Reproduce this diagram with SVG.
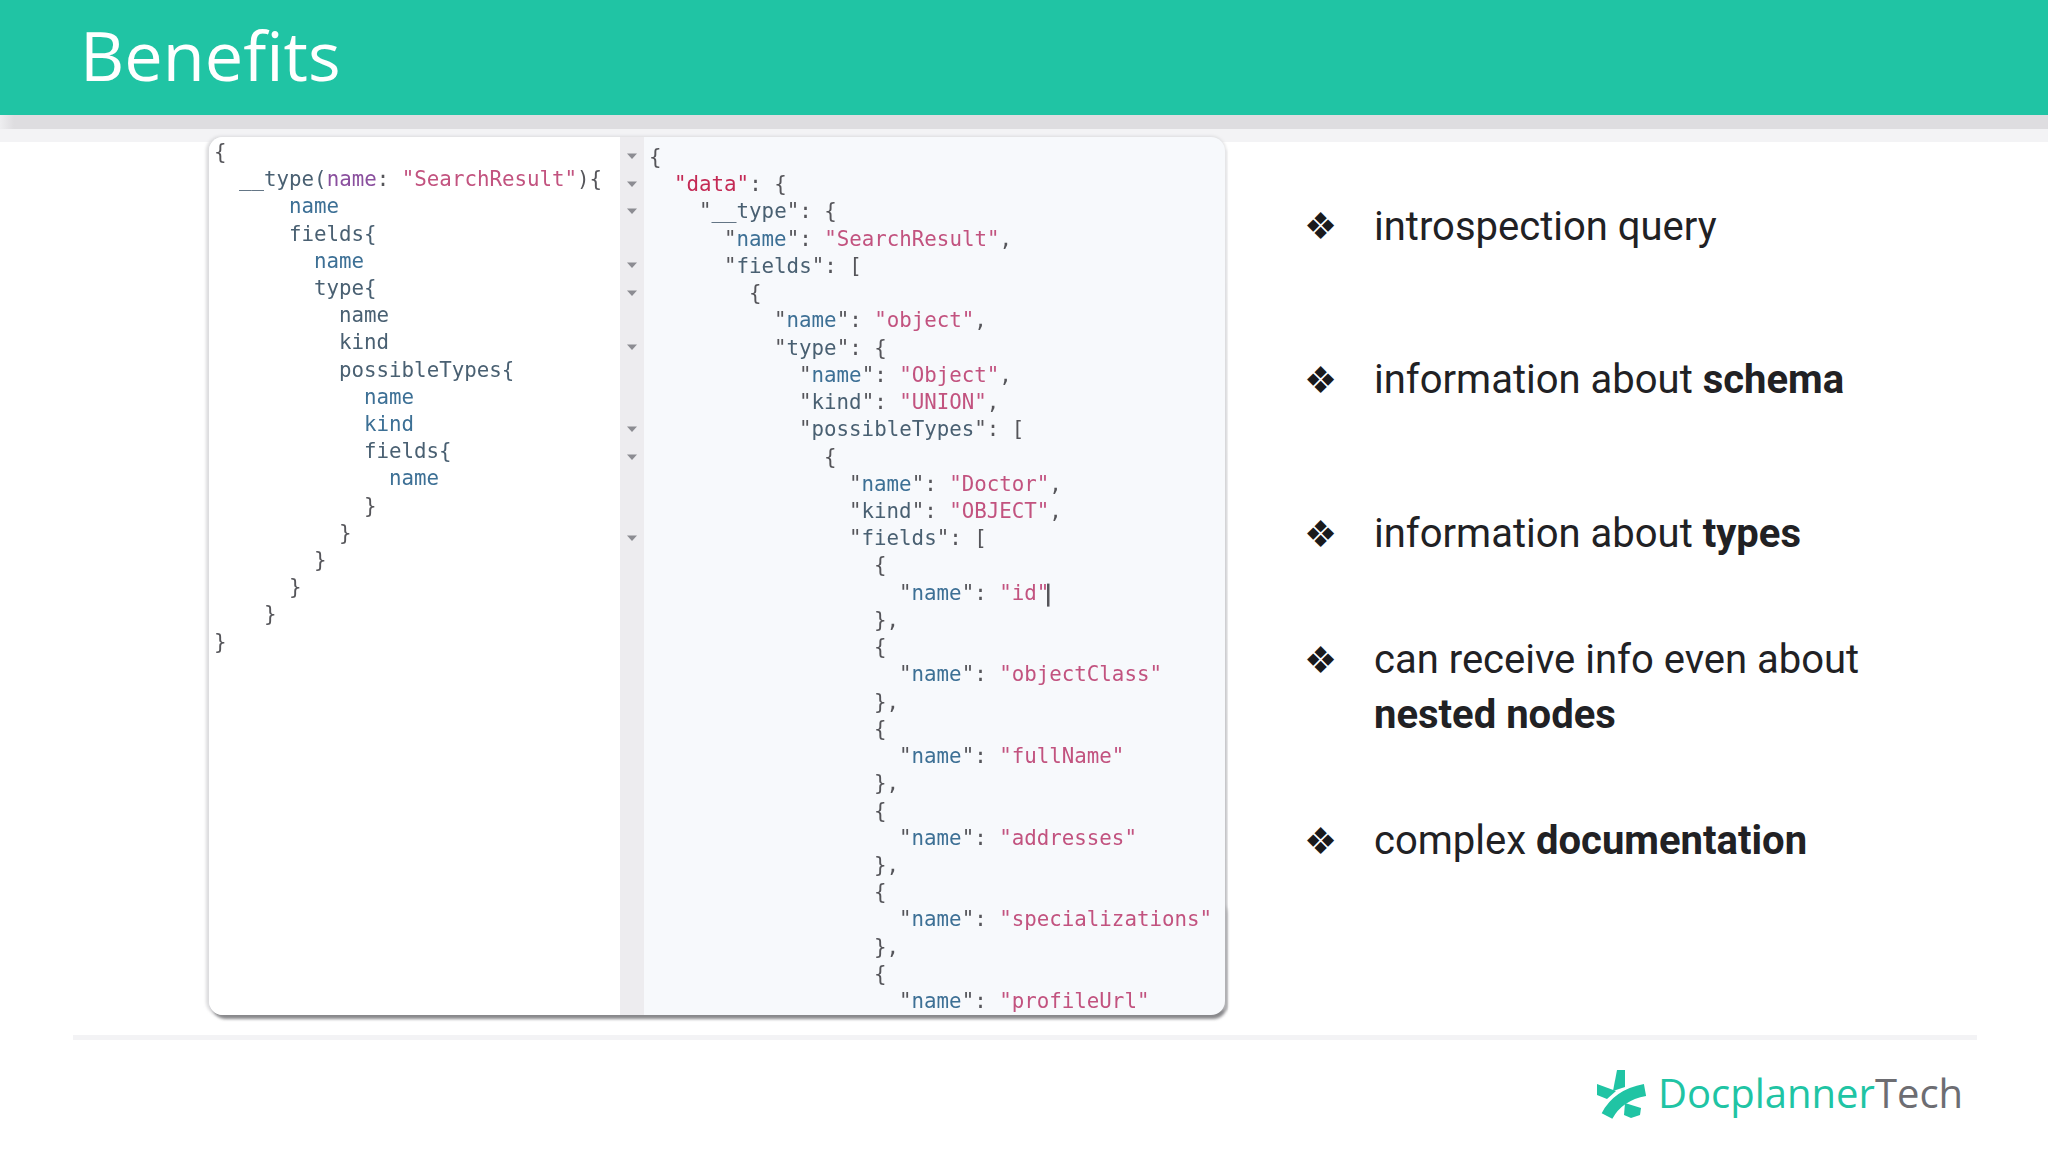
<svg xmlns="http://www.w3.org/2000/svg" width="2048" height="1152" viewBox="0 0 2048 1152">
<style>
.c{font-family:"DejaVu Sans Mono",monospace;font-size:20.8px;fill:#55555a;white-space:pre}
.k{fill:#3c6f95}.s{fill:#c2527f}.a{fill:#8a4f9e}.d{fill:#c42a55}.f{fill:#4a6072}
.b{font-family:Roboto,sans-serif;font-size:40px;fill:#212124}
.b tspan{font-weight:700}
.g{font-family:"DejaVu Sans",sans-serif;font-size:37px;fill:#1a1a1c}
</style>
<defs>
<filter id="soft" x="-5%" y="-5%" width="110%" height="110%"><feGaussianBlur stdDeviation="0.7"/></filter>
<filter id="shadow" x="-5%" y="-5%" width="110%" height="110%"><feGaussianBlur stdDeviation="1.5"/></filter>
<linearGradient id="band" x1="0" x2="1" y1="0" y2="0"><stop offset="0" stop-color="#eeeef0"/><stop offset="1" stop-color="#dedde0"/></linearGradient>
<linearGradient id="edge" x1="0" x2="0" y1="0" y2="1"><stop offset="0" stop-color="#e6e6e8"/><stop offset="1" stop-color="#b4b4b7"/></linearGradient>
<path id="tri" d="M-5,-2.5H5L0,3Z" fill="#8c8c92"/>
</defs>
<rect width="2048" height="1152" fill="#ffffff"/>
<g id="header">
<rect y="115" width="2048" height="27" fill="#f3f3f5"/>
<rect y="115" width="2048" height="14" fill="#dedde0"/>
<rect y="115" width="14" height="14" fill="url(#band)"/>
<rect width="2048" height="115" fill="#20c4a4"/>
<text x="80" y="81" font-family="'Open Sans',sans-serif" font-size="68.5" fill="#ffffff">Benefits</text>
</g>
<rect id="footer-rule" x="73" y="1035" width="1904" height="5" fill="#f3f3f5"/>
<g id="screenshot">
<rect x="206" y="136" width="1020" height="880" rx="15" fill="#dcdcde" filter="url(#shadow)"/>
<rect x="212" y="900" width="1015" height="119" rx="14" fill="#88888b" filter="url(#shadow)"/>
<rect x="1218" y="150" width="9" height="860" fill="url(#edge)" filter="url(#shadow)"/>
<rect x="209" y="137" width="1016" height="878" rx="14" fill="#f7f9fc"/>
<path d="M223,137H620V1015H223A14,14 0 0 1 209,1001V151A14,14 0 0 1 223,137Z" fill="#ffffff"/>
<rect x="620" y="137" width="24" height="878" fill="#edecef"/>
<g id="fold-arrows">
<use href="#tri" x="632" y="156"/><use href="#tri" x="632" y="184"/><use href="#tri" x="632" y="211"/><use href="#tri" x="632" y="265"/><use href="#tri" x="632" y="293"/><use href="#tri" x="632" y="347"/><use href="#tri" x="632" y="429"/><use href="#tri" x="632" y="457"/><use href="#tri" x="632" y="538"/>
</g>
<g id="query" class="c" filter="url(#soft)" transform="translate(0 0.8)">
<text x="214" y="158">{</text>
<text x="239" y="185"><tspan class="f">__type(</tspan><tspan class="a">name</tspan>: <tspan class="s">"SearchResult"</tspan>){</text>
<text x="289" y="212" class="k">name</text>
<text x="289" y="240" class="f">fields{</text>
<text x="314" y="267" class="k">name</text>
<text x="314" y="294" class="f">type{</text>
<text x="339" y="321" class="f">name</text>
<text x="339" y="348" class="f">kind</text>
<text x="339" y="376" class="f">possibleTypes{</text>
<text x="364" y="403" class="k">name</text>
<text x="364" y="430" class="k">kind</text>
<text x="364" y="457" class="f">fields{</text>
<text x="389" y="484" class="k">name</text>
<text x="364" y="512">}</text>
<text x="339" y="539">}</text>
<text x="314" y="566">}</text>
<text x="289" y="593">}</text>
<text x="264" y="620">}</text>
<text x="214" y="648">}</text>
</g>
<g id="response" class="c" filter="url(#soft)" transform="translate(0 1.6)">
<text x="649" y="162">{</text>
<text x="674" y="189"><tspan class="d">"data"</tspan>: {</text>
<text x="699" y="216">"<tspan class="f">__type</tspan>": {</text>
<text x="724" y="244">"<tspan class="k">name</tspan>": <tspan class="s">"SearchResult"</tspan>,</text>
<text x="724" y="271">"<tspan class="f">fields</tspan>": [</text>
<text x="749" y="298">{</text>
<text x="774" y="325">"<tspan class="k">name</tspan>": <tspan class="s">"object"</tspan>,</text>
<text x="774" y="353">"<tspan class="f">type</tspan>": {</text>
<text x="799" y="380">"<tspan class="k">name</tspan>": <tspan class="s">"Object"</tspan>,</text>
<text x="799" y="407">"<tspan class="f">kind</tspan>": <tspan class="s">"UNION"</tspan>,</text>
<text x="799" y="434">"<tspan class="f">possibleTypes</tspan>": [</text>
<text x="824" y="462">{</text>
<text x="849" y="489">"<tspan class="k">name</tspan>": <tspan class="s">"Doctor"</tspan>,</text>
<text x="849" y="516">"<tspan class="f">kind</tspan>": <tspan class="s">"OBJECT"</tspan>,</text>
<text x="849" y="543">"<tspan class="f">fields</tspan>": [</text>
<text x="874" y="570">{</text>
<text x="899" y="598">"<tspan class="k">name</tspan>": <tspan class="s">"id"</tspan></text>
<text x="874" y="625">},</text>
<text x="874" y="652">{</text>
<text x="899" y="679">"<tspan class="k">name</tspan>": <tspan class="s">"objectClass"</tspan></text>
<text x="874" y="707">},</text>
<text x="874" y="734">{</text>
<text x="899" y="761">"<tspan class="k">name</tspan>": <tspan class="s">"fullName"</tspan></text>
<text x="874" y="788">},</text>
<text x="874" y="816">{</text>
<text x="899" y="843">"<tspan class="k">name</tspan>": <tspan class="s">"addresses"</tspan></text>
<text x="874" y="870">},</text>
<text x="874" y="897">{</text>
<text x="899" y="924">"<tspan class="k">name</tspan>": <tspan class="s">"specializations"</tspan></text>
<text x="874" y="952">},</text>
<text x="874" y="979">{</text>
<text x="899" y="1006">"<tspan class="k">name</tspan>": <tspan class="s">"profileUrl"</tspan></text>
<rect x="1047" y="582" width="2.5" height="23" fill="#55555a"/>
</g>
</g>
<g id="bullets">
<g id="bullet-1"><text class="g" x="1304" y="239">❖</text><text class="b" x="1374" y="240">introspection query</text></g>
<g id="bullet-2"><text class="g" x="1304" y="393">❖</text><text class="b" x="1374" y="393">information about <tspan>schema</tspan></text></g>
<g id="bullet-3"><text class="g" x="1304" y="547">❖</text><text class="b" x="1374" y="547">information about <tspan>types</tspan></text></g>
<g id="bullet-4"><text class="g" x="1304" y="673">❖</text><text class="b" x="1374" y="673">can receive info even about</text><text class="b" x="1374" y="728"><tspan>nested nodes</tspan></text></g>
<g id="bullet-5"><text class="g" x="1304" y="854">❖</text><text class="b" x="1374" y="854">complex <tspan>documentation</tspan></text></g>
</g>
<g id="logo">
<g fill="#20c4a4">
<path d="M1617,1070H1625V1087L1613,1091Z"/>
<path d="M1597,1084L1616,1091L1607,1099L1597,1095Z"/>
<path d="M1625,1103L1641,1108L1640,1115L1631,1118L1624,1115Z"/>
<path d="M1607,1116Q1618,1095 1645,1090" fill="none" stroke="#20c4a4" stroke-width="12"/>
</g>
<text x="1658" y="1108" font-family="'Open Sans',sans-serif" font-size="40" fill="#20c4a4">Docplanner<tspan fill="#6d6d72">Tech</tspan></text>
</g>
</svg>
